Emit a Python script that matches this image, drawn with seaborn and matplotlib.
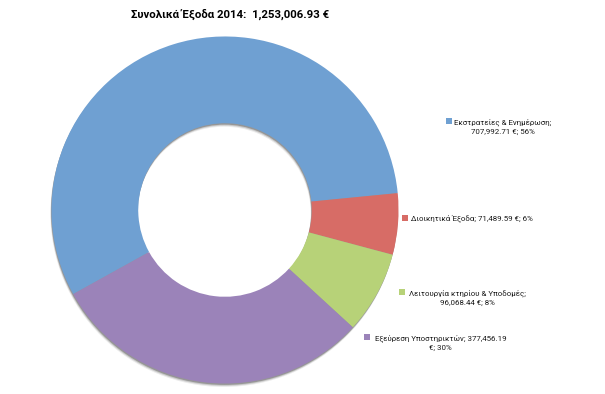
import matplotlib
matplotlib.use("Agg")
import matplotlib.pyplot as plt
import seaborn as sns
from matplotlib.patches import Rectangle

categories = ["Εκστρατείες & Ενημέρωση", "Διοικητικά Έξοδα",
              "Λειτουργία κτηρίου & Υποδομές", "Εξεύρεση Υποστηρικτών"]
values = [707992.71, 71489.59, 96068.44, 377456.19]
colors = ["#6FA0D2", "#D76C66", "#B7D278", "#9B83B9"]
title = "Συνολικά Έξοδα 2014:  1,253,006.93 €"

# label layout (pixel positions in 605x394 figure): text, marker x, text left x, y
label_texts = [
    "Εκστρατείες & Ενημέρωση;\n707,992.71 €; 56%",
    "Διοικητικά Έξοδα; 71,489.59 €; 6%",
    "Λειτουργία κτηρίου & Υποδομές;\n96,068.44 €; 8%",
    "Εξεύρεση Υποστηρικτών; 377,456.19\n€; 30%",
]
marker_x = [449, 405, 402, 367]
marker_y = [121, 218, 292, 337]
text_x = [454, 411, 409, 375]

sns.set_theme(style="white")
plt.rcParams["font.family"] = ["Roboto", "DejaVu Sans"]

W, H = 605, 394
fig = plt.figure(figsize=(W / 100, H / 100), dpi=100)
fig.patch.set_facecolor("white")

cx, cy, r = 225, 210, 177
ax = fig.add_axes([(cx - r) / W, 1 - (cy + r) / H, 2 * r / W, 2 * r / H])
ax.axis("off")

# soft drop shadow of the ring (shows below outer edge and at top of hole)
for off, a in [(0.020, 0.08), (0.014, 0.14), (0.008, 0.25)]:
    ax.pie([1], radius=1.0, center=(-off * 0.3, -off), colors=["#000000"],
           wedgeprops=dict(width=0.5, alpha=a, linewidth=0))
ax.pie(values, radius=1.0, startangle=209, counterclock=False,
       colors=colors, wedgeprops=dict(width=0.5, linewidth=0))
ax.set_xlim(-1.02, 1.02)
ax.set_ylim(-1.02, 1.02)
ax.set_aspect("equal")

fig.text(230 / W, 1 - 14 / H, title, ha="center", va="center",
         fontsize=8.2, fontweight="bold", color="#000000")

for txt, mx, my, tx, col in zip(label_texts, marker_x, marker_y, text_x, colors):
    s = 6
    fig.patches.append(Rectangle(((mx - s / 2) / W, 1 - (my + s / 2) / H), s / W, s / H,
                                 transform=fig.transFigure, facecolor=col,
                                 edgecolor="none", figure=fig))
    nlines = txt.count("\n") + 1
    ty = my + (nlines - 1) * 5.5
    fig.text(tx / W, 1 - ty / H, txt, ha="left", va="center",
             multialignment="center", fontsize=5.7, color="#1a1a1a",
             linespacing=1.55)

fig.savefig("out.png", dpi=100, facecolor="white")
